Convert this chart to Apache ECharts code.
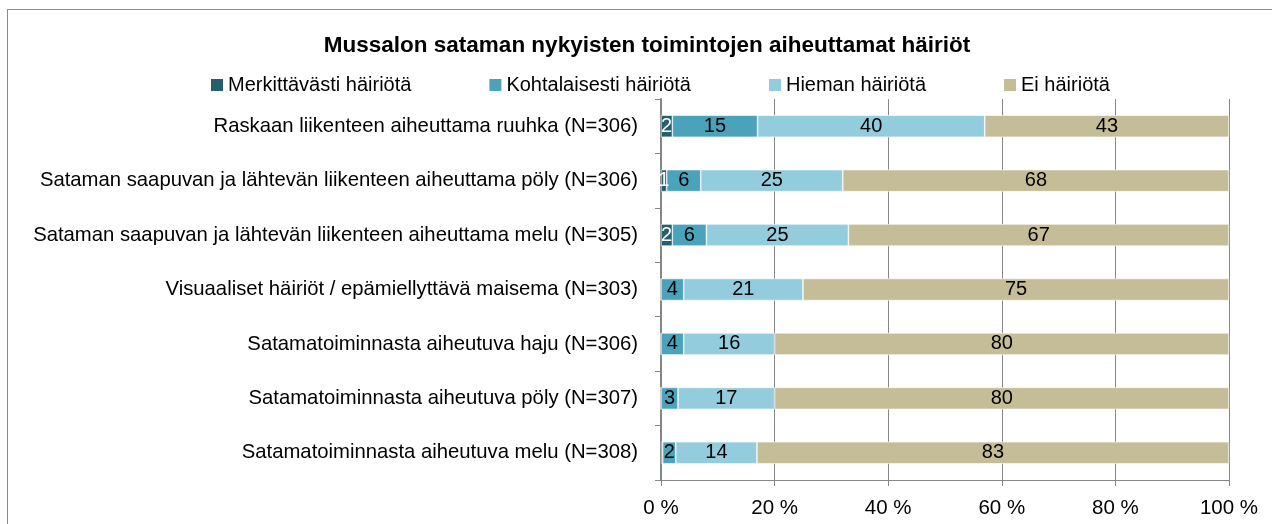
<!DOCTYPE html>
<html>
<head>
<meta charset="utf-8">
<script src="https://cdn.jsdelivr.net/npm/echarts@6/dist/echarts.min.js"></script>
<style>
  html, body { margin: 0; padding: 0; background: #fff; }
  #frame { position: relative; width: 1272px; height: 524px; overflow: hidden; }
  #border { position: absolute; left: 7px; top: 9px; width: 1300px; height: 600px; border: 1px solid #8c8c8c; box-sizing: border-box; }
  #chart { position: absolute; left: 0; top: 0; width: 1272px; height: 524px; }
</style>
</head>
<body>
<div id="frame">
  <div id="border"></div>
  <div id="chart"></div>
</div>
<script>
// categories top to bottom
const categories = [
  'Raskaan liikenteen aiheuttama ruuhka (N=306)',
  'Sataman saapuvan ja lähtevän liikenteen aiheuttama pöly (N=306)',
  'Sataman saapuvan ja lähtevän liikenteen aiheuttama melu (N=305)',
  'Visuaaliset häiriöt / epämiellyttävä maisema (N=303)',
  'Satamatoiminnasta aiheutuva haju (N=306)',
  'Satamatoiminnasta aiheutuva pöly (N=307)',
  'Satamatoiminnasta aiheutuva melu (N=308)'
];
const seriesNames = ['Merkittävästi häiriötä', 'Kohtalaisesti häiriötä', 'Hieman häiriötä', 'Ei häiriötä'];
const merkittavasti = [2, 1, 2, 0, 0, 0, 0.3];
const kohtalaisesti = [15, 6, 6, 4, 4, 3, 2.3];
const hieman = [40, 25, 25, 21, 16, 17, 14.3];
const eiHairiota = [43, 68, 67, 75, 80, 80, 83.1];
const xTicks = [0, 20, 40, 60, 80, 100];

const colors = ['#245f6e', '#4aa3bb', '#93cddd', '#c4bd97'];
const labelColors = ['#ffffff', '#000000', '#000000', '#000000'];
const values = [merkittavasti, kohtalaisesti, hieman, eiHairiota];
const font = '"Liberation Sans", Arial, sans-serif';

let chart = echarts.init(document.getElementById('chart'));

let option = {
    animation: false,
    title: {
        text: 'Mussalon sataman nykyisten toimintojen aiheuttamat häiriöt',
        left: 642,
        top: 29,
        textAlign: 'center',
        textStyle: {fontFamily: font, fontSize: 22.5, fontWeight: 'bold', color: '#000'}
    },
    legend: {
        top: 75,
        left: 209,
        padding: 0,
        itemWidth: 14,
        itemHeight: 14,
        itemGap: 76,
        icon: 'rect',
        textStyle: {fontFamily: font, fontSize: 20, color: '#000', padding: [0, 0, 0, -1]},
        data: seriesNames
    },
    grid: {
        left: 661,
        right: 43,
        top: 99,
        bottom: 44,
        containLabel: false,
        outerBoundsMode: 'none'
    },
    xAxis: {
        type: 'value',
        min: 0,
        max: 100,
        interval: 20,
        axisLine: {show: true, lineStyle: {color: '#868686'}},
        axisTick: {show: true, length: 6, lineStyle: {color: '#868686'}},
        splitLine: {show: true, lineStyle: {color: '#868686', width: 1}},
        axisLabel: {
            fontFamily: font, fontSize: 20.5, color: '#000', margin: 18,
            formatter: (v) => xTicks.includes(v) ? v + ' %' : ''
        }
    },
    yAxis: {
        type: 'category',
        inverse: true,
        data: categories,
        axisLine: {show: true, lineStyle: {color: '#868686', width: 2}},
        axisTick: {show: true, length: 6, lineStyle: {color: '#868686'}},
        axisLabel: {fontFamily: font, fontSize: 20.3, color: '#000', margin: 23}
    },
    series: seriesNames.map((name, i) => ({
        name: name,
        type: 'bar',
        stack: 'total',
        barWidth: 22,
        data: values[i],
        itemStyle: {color: colors[i], borderColor: '#ffffff', borderWidth: 0.6},
        label: {
            show: true,
            position: 'inside',
            fontFamily: font,
            fontSize: 20,
            color: labelColors[i],
            formatter: (p) => p.value >= 0.5 ? Math.round(p.value) : ''
        }
    }))
};

chart.setOption(option);
</script>
</body>
</html>
